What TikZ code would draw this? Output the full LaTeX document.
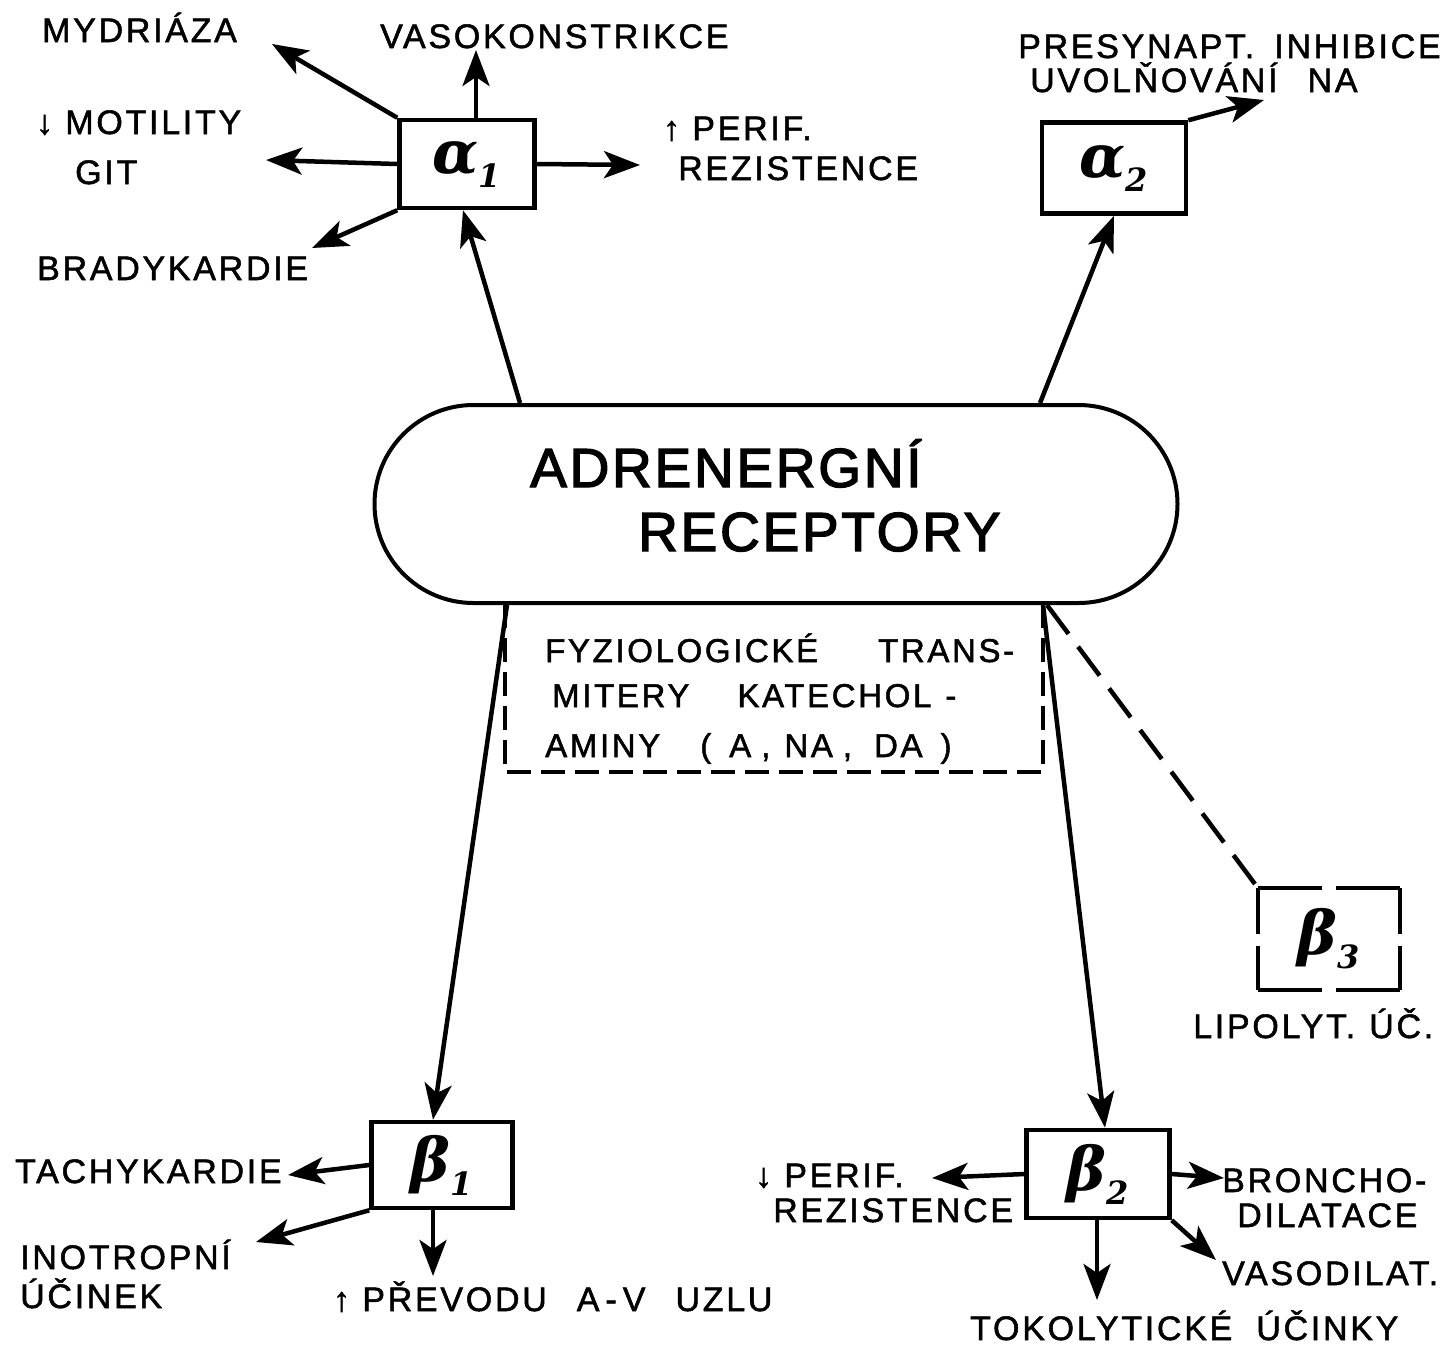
\documentclass[tikz,border=0pt]{standalone}
\usepackage{fontspec}
\setmainfont[LetterSpace=8,FakeBold=1.5]{Liberation Sans}
\newfontfamily\bigfont[LetterSpace=5,FakeBold=2.5]{Liberation Sans}
\newfontfamily\grk{DejaVu Serif}
\newcommand{\gsym}[2]{{\fontsize{60}{66}\grk\bfseries\itshape #1\raisebox{-14pt}{\fontsize{32}{34}\selectfont #2}}}
\usetikzlibrary{arrows.meta,shapes.misc}
\begin{document}
\begin{tikzpicture}[x=1pt,y=-1pt,
  lbl/.style={anchor=base west, inner sep=0pt, font=\fontsize{34}{40}\selectfont},
  rbox/.style={draw, line width=4.5pt, inner sep=0pt},
  arr/.style={line width=4.5pt, -{Stealth[length=36pt,width=27pt,inset=9pt]}},
  dline/.style={line width=4.5pt, dash pattern=on 36pt off 16pt}]
\useasboundingbox (0,0) rectangle (1450,1350);
\fill[white] (0,0) rectangle (1450,1350);

% receptor boxes
\node[rbox, minimum width=135pt, minimum height=88pt] (a1) at (467,164) {\gsym{α}{1}};
\node[rbox, minimum width=144pt, minimum height=91pt] (a2) at (1114,168) {\gsym{α}{2}};
\node[rbox, minimum width=141pt, minimum height=86pt] (b1) at (442,1165) {\gsym{β}{1}};
\node[rbox, minimum width=143pt, minimum height=88pt] (b2) at (1098,1174) {\gsym{β}{2}};
\node[inner sep=0pt, minimum width=142pt, minimum height=102pt] (b3) at (1329,939) {\gsym{β}{3}};
\draw[line width=4.5pt, dash pattern=on 64pt off 14pt] (b3.north west) -- (b3.north east);
\draw[line width=4.5pt, dash pattern=on 64pt off 14pt] (b3.south west) -- (b3.south east);
\draw[line width=4.5pt, dash pattern=on 46pt off 12pt] (b3.north west) -- (b3.south west);
\draw[line width=4.5pt, dash pattern=on 46pt off 12pt] (b3.north east) -- (b3.south east);

% central pill
\node[draw, line width=4pt, rounded rectangle, minimum width=803pt, minimum height=198pt, inner sep=0pt] (pill) at (776,504) {};
\node[anchor=base west, inner sep=0pt, font=\fontsize{55}{60}\bigfont] (t1) at (530,487) {ADRENERGNÍ};
\node[anchor=base west, inner sep=0pt, font=\fontsize{55}{60}\bigfont] (t2) at (638,551) {RECEPTORY};

% dashed transmitter box (open at top)
\node[minimum width=538pt, minimum height=167pt, inner sep=0pt] (fyz) at (774,688) {};
\draw[line width=4pt, dash pattern=on 24pt off 10pt] (fyz.north west) -- (fyz.south west) -- (fyz.south east) -- (fyz.north east);
\node[lbl, font=\fontsize{33}{38}\selectfont] (f1) at (545,662) {FYZIOLOGICKÉ\hspace{60pt}TRANS-};
\node[lbl, font=\fontsize{33}{38}\selectfont] (f2) at (552,707) {MITERY\hspace{48pt}KATECHOL\hspace{14pt}-};
\node[lbl, font=\fontsize{33}{38}\selectfont] (f3) at (545,757) {AMINY\hspace{40pt}(\hspace{18pt}A\hspace{10pt},\hspace{14pt}NA\hspace{10pt},\hspace{22pt}DA\hspace{18pt})};

% connectors from the pill
\draw[arr] ([xshift=-256pt]pill.north) -- ([xshift=-4pt]a1.south);
\draw[arr] ([xshift=264pt]pill.north) -- (a2.south);
\draw[arr] ([xshift=-269pt]pill.south) -- ([xshift=-9pt]b1.north);
\draw[arr] ([xshift=267pt]pill.south) -- ([xshift=7pt]b2.north);
\draw[dline] ([xshift=271pt]pill.south) -- (b3.north west);

% alpha1 effects
\coordinate (myd) at (272,44);
\coordinate (vas) at (476,50);
\coordinate (mot) at (266,160);
\coordinate (per) at (640,165);
\coordinate (bra) at (312,248);
\draw[arr] (a1.north west) -- (myd);
\draw[arr] ([xshift=9pt]a1.north) -- (vas);
\draw[arr] (a1.west) -- (mot);
\draw[arr] (a1.east) -- (per);
\draw[arr] (a1.south west) -- (bra);
\node[lbl] (l1) at (42,42) {MYDRIÁZA};
\node[lbl] (l2) at (380,48) {VASOKONSTRIKCE};
\node[lbl] (l3) at (36,134) {↓ MOTILITY};
\node[lbl] (l4) at (75,184) {GIT};
\node[lbl] (l5) at (663,140) {↑ PERIF.};
\node[lbl] (l6) at (678,180) {REZISTENCE};
\node[lbl] (l7) at (37,280) {BRADYKARDIE};

% alpha2 effect
\coordinate (pre) at (1264,100);
\draw[arr] (a2.north east) -- (pre);
\node[lbl] (l8) at (1018,58) {PRESYNAPT.\hspace{20pt}INHIBICE};
\node[lbl] (l9) at (1030,92) {UVOLŇOVÁNÍ\hspace{30pt}NA};

% beta3
\node[lbl] (l10) at (1193,1038) {LIPOLYT.\hspace{14pt}ÚČ.};

% beta1 effects
\coordinate (tac) at (288,1175);
\coordinate (ino) at (256,1242);
\coordinate (pre2) at (433,1276);
\draw[arr] (b1.west) -- (tac);
\draw[arr] (b1.south west) -- (ino);
\draw[arr] ([xshift=-9pt]b1.south) -- (pre2);
\node[lbl] (l11) at (15,1183) {TACHYKARDIE};
\node[lbl] (l12) at (20,1269) {INOTROPNÍ};
\node[lbl] (l13) at (20,1308) {ÚČINEK};
\node[lbl] (l14) at (333,1311) {↑ PŘEVODU\hspace{30pt}A\hspace{6pt}-\hspace{6pt}V\hspace{30pt}UZLU};

% beta2 effects
\coordinate (per2) at (932,1178);
\coordinate (bro) at (1224,1178);
\coordinate (vsd) at (1216,1260);
\coordinate (tok) at (1097,1300);
\draw[arr] (b2.west) -- (per2);
\draw[arr] (b2.east) -- (bro);
\draw[arr] (b2.south east) -- (vsd);
\draw[arr] ([xshift=-1pt]b2.south) -- (tok);
\node[lbl] (l15) at (755,1187) {↓ PERIF.};
\node[lbl] (l16) at (773,1222) {REZISTENCE};
\node[lbl] (l17) at (1222,1192) {BRONCHO-};
\node[lbl] (l18) at (1237,1227) {DILATACE};
\node[lbl] (l19) at (1222,1285) {VASODILAT.};
\node[lbl] (l20) at (970,1340) {TOKOLYTICKÉ\hspace{24pt}ÚČINKY};
\end{tikzpicture}
\end{document}
